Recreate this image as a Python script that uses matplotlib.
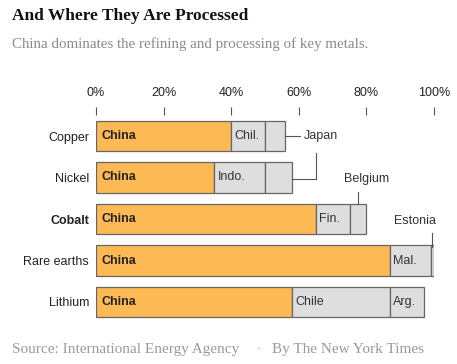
import matplotlib
matplotlib.use('Agg')
import matplotlib.pyplot as plt

# shares of refining / processing, percent
metals = ['Copper', 'Nickel', 'Cobalt', 'Rare earths', 'Lithium']
china = [40, 35, 65, 87, 58]
second = [10, 15, 10, 12, 29]
third = [6, 8, 5, 1, 10]
second_labels = ['Chil.', 'Indo.', 'Fin.', 'Mal.', 'Chile']
third_labels = ['', '', '', '', 'Arg.']
ticks = [0, 20, 40, 60, 80, 100]

ORANGE = '#fdb954'
GREY = '#dedede'
EDGE = '#666666'
SANS = 'Liberation Sans'
SERIF = 'Liberation Serif'

W, H = 457, 364
fig = plt.figure(figsize=(W / 100, H / 100), dpi=100)
fig.patch.set_facecolor('white')

# axes placed so 0% sits at x=96px and 100% at x=434px
ax = fig.add_axes([96 / W, (H - 322.75) / H, 338 / W, 207.5 / H])
ax.set_xlim(0, 100)
ax.set_ylim(4.5, -0.5)
for s in ax.spines.values():
    s.set_visible(False)

y = list(range(len(metals)))
h = 0.73
left2 = [c for c in china]
left3 = [c + s for c, s in zip(china, second)]
ax.barh(y, china, height=h, color=ORANGE, edgecolor=EDGE, linewidth=0.9)
ax.barh(y, second, left=left2, height=h, color=GREY, edgecolor=EDGE, linewidth=0.9)
ax.barh(y, third, left=left3, height=h, color=GREY, edgecolor=EDGE, linewidth=0.9)

for i in y:
    ax.text(1.5, i, 'China', ha='left', va='center', fontsize=9,
            fontweight='bold', color='#222222', family=SANS)
    ax.text(left2[i] + 1.0, i, second_labels[i], ha='left', va='center',
            fontsize=9, color='#333333', family=SANS)
    if third_labels[i]:
        ax.text(left3[i] + 1.0, i, third_labels[i], ha='left', va='center',
                fontsize=9, color='#333333', family=SANS)

# category labels
ax.set_yticks(y)
ax.set_yticklabels(metals, fontsize=9, color='#222222', family=SANS)
ax.tick_params(axis='y', length=0, pad=5)
ax.get_yticklabels()[2].set_fontweight('bold')

# percent ticks on top
ax.xaxis.tick_top()
ax.set_xticks(ticks)
ax.set_xticklabels([f'{t}%' for t in ticks], fontsize=9, color='#222222', family=SANS)
ax.tick_params(axis='x', length=6, width=0.8, color='#555555', pad=6, direction='out')

# callouts for the small segments
lc = dict(color='#555555', lw=0.8, clip_on=False)
ends = [c + s + t for c, s, t in zip(china, second, third)]
ax.plot([ends[0], 60.5], [0, 0], **lc)
ax.text(61.5, 0, 'Japan', ha='left', va='center', fontsize=9, color='#333333', family=SANS)
ax.plot([ends[1], 65, 65], [1.04, 1.04, 0.42], **lc)
bx = left3[2] + third[2] / 2
ax.text(80, 1.03, 'Belgium', ha='center', va='center', fontsize=9, color='#333333', family=SANS)
ax.plot([bx, bx], [1.36, 2 - h / 2], **lc)
ex = left3[3] + third[3] / 2
ax.text(94.4, 2.04, 'Estonia', ha='center', va='center', fontsize=9, color='#333333', family=SANS)
ax.plot([ex, ex], [2.33, 3 - h / 2 + 0.05], **lc)

# titles and footer
fig.text(12 / W, 1 - 16 / H, 'And Where They Are Processed', ha='left', va='center',
         fontsize=12.5, fontweight='bold', color='#111111', family=SERIF)
fig.text(12 / W, 1 - 44 / H, 'China dominates the refining and processing of key metals.',
         ha='left', va='center', fontsize=10.8, color='#8a8a8a', family=SERIF)
fig.text(12 / W, 1 - 349 / H, 'Source: International Energy Agency', ha='left', va='center',
         fontsize=11, color='#999999', family=SERIF)
fig.text(258 / W, 1 - 349 / H, '\u2022', ha='center', va='center', fontsize=7, color='#dddddd')
fig.text(272 / W, 1 - 349 / H, 'By The New York Times', ha='left', va='center',
         fontsize=11, color='#999999', family=SERIF)

fig.savefig('out.png', dpi=100)
